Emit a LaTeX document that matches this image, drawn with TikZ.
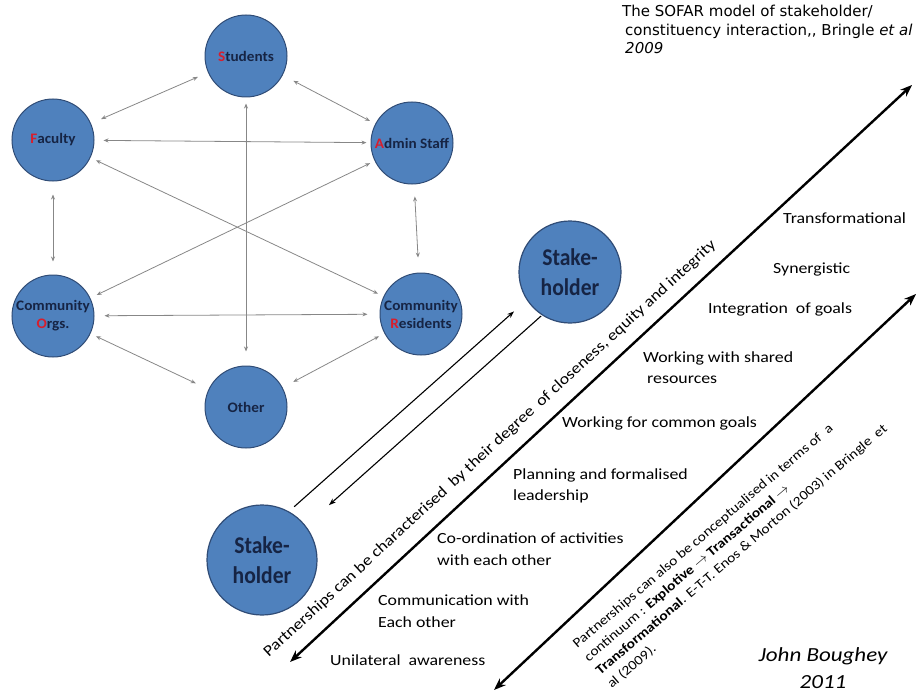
\documentclass[tikz,border=0pt]{standalone}
\usepackage{fontspec}
\setmainfont{Carlito}[FakeStretch=1.15]
\newfontfamily\hubfont{Carlito}[FakeStretch=1.05]
\newfontfamily\stakefont{Carlito}[FakeStretch=0.9]
\newfontfamily\titlefont{DejaVu Sans}
\usetikzlibrary{arrows.meta}

\definecolor{hubfill}{RGB}{79,129,189}
\definecolor{hubedge}{RGB}{48,76,118}
\definecolor{hubtext}{RGB}{22,36,68}
\definecolor{initred}{RGB}{215,30,45}
\definecolor{linkgray}{RGB}{135,135,135}
\newcommand\initial[1]{\textcolor{initred}{#1}}

\tikzset{
  hub/.style={circle, fill=hubfill, draw=hubedge, line width=1pt,
    minimum size=82pt, inner sep=-4pt, align=center, text=hubtext,
    font=\hubfont\bfseries\fontsize{14.5}{18}\selectfont},
  stakebox/.style={circle, fill=hubfill, draw=hubedge, line width=1.2pt,
    inner sep=0pt, align=center, text=hubtext,
    font=\stakefont\bfseries\fontsize{24}{30}\selectfont},
  link/.style={draw=linkgray, line width=0.8pt,
    {Stealth[length=5pt,width=4pt]}-{Stealth[length=5pt,width=4pt]},
    shorten <=8pt, shorten >=8pt},
  flow/.style={draw=black, line width=1.1pt, -{Stealth[length=7pt,width=5pt]}},
  scale line/.style={draw=black, line width=2.4pt,
    {Stealth[length=12pt,width=9pt]}-{Stealth[length=12pt,width=9pt]}},
  level/.style={font=\fontsize{15.5}{21.5}\selectfont, align=left, inner sep=0pt, anchor=west},
}

\begin{document}
\begin{tikzpicture}[x=1pt,y=-1pt]
\useasboundingbox (0,0) rectangle (917,695);

% --- stakeholder / constituency hexagon ---
\node[hub] (stu) at (246,56)  {\initial{S}tudents};
\node[hub] (fac) at (53,140)  {\initial{F}aculty};
\node[hub] (adm) at (412,143) {\initial{A}dmin Staff};
\node[hub] (org) at (53,316)  {Community\\\initial{O}rgs.};
\node[hub] (res) at (421,314) {Community\\\initial{R}esidents};
\node[hub] (oth) at (246,407) {Other};

\draw[link, shorten <=11pt, shorten >=11pt] (fac) -- (stu);
\draw[link, shorten <=12pt, shorten >=6pt] (stu) -- (adm);
\draw[link, shorten <=9pt, shorten >=4pt] (fac) -- (adm);
\draw[link, shorten <=6pt, shorten >=6pt] (fac) -- (res);
\draw[link, shorten <=5pt, shorten >=7pt] (adm) -- (org);
\draw[link, shorten <=6pt, shorten >=14pt] (stu) -- (oth);
\draw[link, shorten <=13pt, shorten >=13pt] (fac) -- (org);
\draw[link, shorten <=12pt, shorten >=15pt] (adm) -- (res);
\draw[link, shorten <=10pt, shorten >=12pt] (org) -- (res);
\draw[link, shorten <=6pt, shorten >=14pt] (org) -- (oth);
\draw[link, shorten <=6pt, shorten >=12pt] (res) -- (oth);

% --- title ---
\node[anchor=north west, align=left, inner sep=0pt,
      font=\titlefont\fontsize{15}{18.5}\selectfont] (title) at (622,5)
  {The SOFAR model of stakeholder/\\
   \hspace*{3pt}constituency interaction,, Bringle \textit{et al}\\
   \hspace*{3pt}\textit{2009}};

% --- two stakeholders ---
\node[stakebox, minimum size=102pt] (sh1) at (570,272) {Stake-\\holder};
\node[stakebox, minimum size=110pt] (sh2) at (262,560) {Stake-\\holder};

\draw[flow, shorten <=7pt, shorten >=17pt] (sh2.61) -- (sh1.213);
\draw[flow, shorten <=1pt, shorten >=31pt] (sh1.237) -- (sh2.38);

% --- closeness scale ---
\coordinate (l1a) at (290,662);
\coordinate (l1b) at (912,85);
\coordinate (l2a) at (494,690);
\coordinate (l2b) at (916,294);
\draw[scale line] (l1a) -- (l1b);
\draw[scale line] (l2a) -- (l2b);

\node[rotate=42.6, inner sep=0pt, font=\fontsize{15.5}{18}\selectfont] (close) at (490,449)
  {Partnerships can be characterised~ by their degree~ of closeness, equity and integrity};

\node[rotate=40.5, anchor=west, align=left, inner sep=0pt,
      font=\fontsize{13.5}{17.7}\selectfont] (ett) at (592,666)
  {Partnerships can also be conceptualised in terms of~ a\\
   continuum : \textbf{Explotive $\rightarrow$ Transactional $\rightarrow$}\\
   \textbf{Transformational}. E-T-T. Enos \& Morton (2003) in Bringle~ et\\
   al (2009).};

% --- levels of interaction ---
\node[level] (t1) at (783,218) {Transformational};
\node[level] (t2) at (773,269) {Synergistic};
\node[level] (t3) at (708,309) {Integration~ of goals};
\node[level] (t4) at (643,367.5) {Working with shared\\\hspace*{4pt}resources};
\node[level] (t5) at (562,423) {Working for common goals};
\node[level] (t6) at (513,486) {Planning and formalised\\leadership};
\node[level] (t7) at (437,549) {Co-ordination of activities\\with each other};
\node[level] (t8) at (378,611) {Communication with\\Each other};
\node[level] (t9) at (330,660) {Unilateral~ awareness};

% --- author ---
\node[align=center, inner sep=0pt, font=\itshape\fontsize{20}{27}\selectfont] (author) at (823,668)
  {John Boughey\\2011};
\end{tikzpicture}
\end{document}
